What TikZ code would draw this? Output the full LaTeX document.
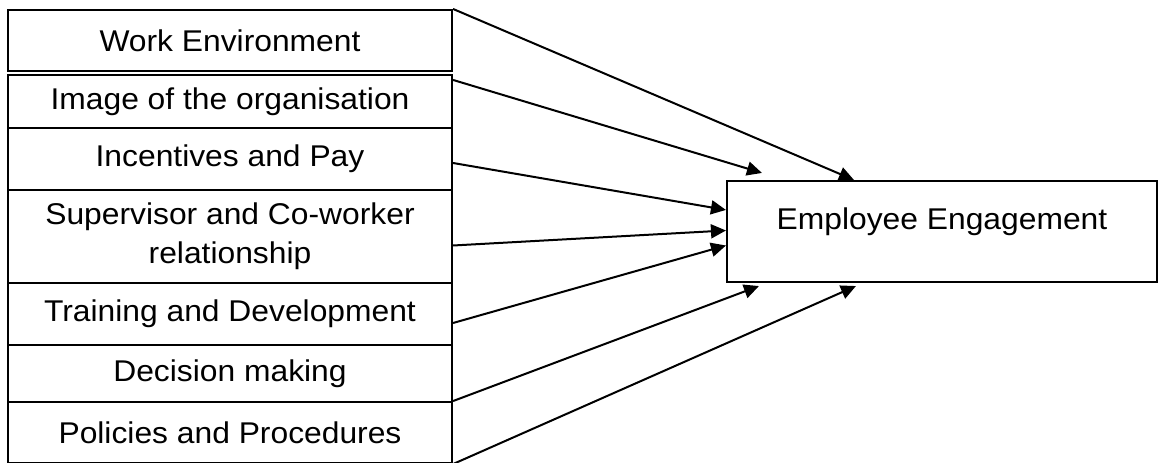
\documentclass[tikz,border=0pt]{standalone}
\usepackage{fontspec}
\setmainfont[FakeStretch=1.06]{Liberation Sans}
\usetikzlibrary{positioning,arrows.meta}

\begin{document}
\begin{tikzpicture}[x=1pt,y=1pt,on grid,
	factor/.style={draw,line width=2.1pt,minimum width=444pt,inner sep=0pt,align=center,font=\fontsize{30}{39}\selectfont},
	outcome/.style={draw,line width=2.1pt,minimum width=430pt,minimum height=101pt,text depth=26pt,font=\fontsize{30}{39}\selectfont},
	>={Triangle[length=15pt,width=14pt]}]
			\useasboundingbox (0,0) rectangle (1159,463);
			\node[factor,minimum height=61pt] (env) at (230,422.5) {Work Environment};
			\node[factor,minimum height=53pt] (img) [below=61pt of env] {Image of the organisation};
			\node[factor,minimum height=62pt] (inc) [below=57.5pt of img] {Incentives and Pay};
			\node[factor,minimum height=93pt] (sup) [below=77.5pt of inc] {Supervisor and Co-worker\\relationship};
			\node[factor,minimum height=62pt] (trn) [below=77.5pt of sup] {Training and Development};
			\node[factor,minimum height=57pt] (dec) [below=59.5pt of trn] {Decision making};
			\node[factor,minimum height=61pt] (pol) [below=59pt of dec] {Policies and Procedures};
			\node[outcome] (eng) at (942,231.5) {Employee Engagement};
			\path[->,line width=2pt]
			
			(env.north east) edge ([xshift=128pt]eng.north west)
			([yshift=-6pt]img.north east) edge ([shift={(36pt,7pt)}]eng.north west)
			([yshift=-4pt]inc.east) edge ([yshift=-30pt]eng.north west)
			([yshift=-9pt]sup.east) edge ([yshift=1pt]eng.west)
			([yshift=-9pt]trn.east) edge ([yshift=-14pt]eng.west)
			([yshift=2pt]dec.south east) edge ([shift={(33pt,-3pt)}]eng.south west)
			(pol.south east) edge ([shift={(130pt,-3pt)}]eng.south west);
			
		\end{tikzpicture}
\end{document}
